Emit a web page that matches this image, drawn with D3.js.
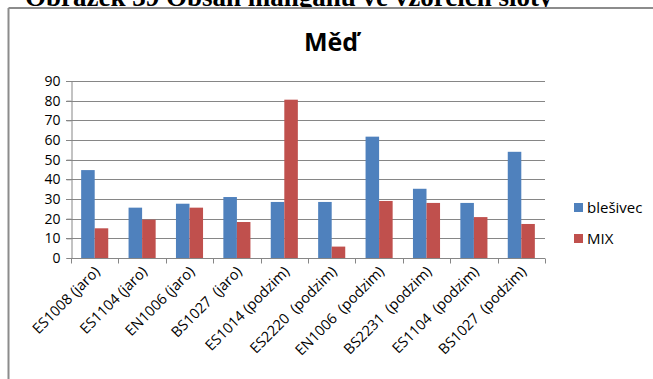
<!DOCTYPE html>
<html>
<head>
<meta charset="utf-8">
<script src="https://cdn.jsdelivr.net/npm/d3@7"></script>
<style>
  html, body { margin: 0; padding: 0; background: #fff; }
  svg { display: block; }
  text { white-space: pre; }
</style>
</head>
<body>
<svg id="chart" width="653" height="379"></svg>
<script>
// Sample names along the x axis
const categories = [
  "ES1008 (jaro)", "ES1104 (jaro)", "EN1006 (jaro)", "BS1027  (jaro)",
  "ES1014 (podzim)", "ES2220  (podzim)", "EN1006  (podzim)", "BS2231  (podzim)",
  "ES1104  (podzim)", "BS1027  (podzim)"
];
// Copper content per sample, two series
const seriesNames = ["blešivec", "MIX"];
const blesivec = [44.7, 25.6, 27.6, 31.0, 28.5, 28.5, 61.7, 35.2, 28.0, 54.0];
const mix      = [15.1, 19.5, 25.6, 18.3, 80.5, 5.8, 29.0, 28.0, 20.8, 17.3];
const yTicks = [0, 10, 20, 30, 40, 50, 60, 70, 80, 90];
const colors = ["#4F81BD", "#C0504D"];

const svg = d3.select("#chart");
const font = "'Open Sans', 'DejaVu Sans', sans-serif";

// Caption line above the chart frame (runs off the top of the page)
svg.append("text")
  .attr("x", 25).attr("y", 6)
  .attr("font-family", "'Liberation Serif', serif")
  .attr("font-weight", "bold")
  .attr("font-size", 27)
  .attr("fill", "#000")
  .text("Obrázek 39 Obsah mangánu ve vzorcích sloty");

// Chart frame
svg.append("rect").attr("x", 9.5).attr("y", 9).attr("width", 644).attr("height", 370).attr("fill", "#fff");
svg.append("line").attr("x1", 8.5).attr("x2", 653).attr("y1", 8).attr("y2", 8)
  .attr("stroke", "#8c8c8c").attr("stroke-width", 2);
svg.append("line").attr("x1", 8.5).attr("x2", 8.5).attr("y1", 8).attr("y2", 379)
  .attr("stroke", "#8c8c8c").attr("stroke-width", 2);

// Title
svg.append("text")
  .attr("x", 331).attr("y", 51)
  .attr("text-anchor", "middle")
  .attr("font-family", font)
  .attr("font-weight", "bold")
  .attr("font-size", 25)
  .text("Měď");

const plot = { left: 71, right: 545, top: 81, bottom: 258 };

const x = d3.scaleBand().domain(categories).range([plot.left, plot.right]).paddingInner(0).paddingOuter(0);
const y = d3.scaleLinear().domain([0, 90]).range([plot.bottom, plot.top]);
// Two bars per group, gap 150% of a bar width
const inner = d3.scaleBand().domain(seriesNames)
  .range([0, x.bandwidth()]).paddingInner(0).paddingOuter(0.75);

// Gridlines
svg.append("g").selectAll("line").data(yTicks.filter(t => t > 0)).join("line")
  .attr("x1", plot.left - 5).attr("x2", plot.right)
  .attr("y1", d => Math.round(y(d)) + 0.5).attr("y2", d => Math.round(y(d)) + 0.5)
  .attr("stroke", "#868686").attr("stroke-width", 1);

// Y axis
const yAxis = svg.append("g")
  .attr("transform", `translate(${plot.left + 0.5},0)`)
  .call(d3.axisLeft(y).tickValues(yTicks).tickSize(5).tickPadding(6));
yAxis.select(".domain").attr("stroke", "#868686");
yAxis.selectAll(".tick line").attr("stroke", "#868686");
yAxis.selectAll(".tick text")
  .attr("font-family", font).attr("font-size", 14).attr("fill", "#000");

// Bars
const rows = categories.map((c, i) => ({ cat: c, values: [blesivec[i], mix[i]] }));
const groups = svg.append("g").selectAll("g").data(rows).join("g")
  .attr("transform", d => `translate(${x(d.cat)},0)`);
groups.selectAll("rect")
  .data(d => d.values.map((v, k) => ({ name: seriesNames[k], v, k })))
  .join("rect")
  .attr("x", d => inner(d.name))
  .attr("width", inner.bandwidth())
  .attr("y", d => y(d.v))
  .attr("height", d => y(0) - y(d.v))
  .attr("fill", d => colors[d.k]);

// X axis with tick marks at category boundaries
const xg = svg.append("g").attr("transform", `translate(0,${plot.bottom + 0.5})`);
xg.append("line").attr("x1", plot.left).attr("x2", plot.right)
  .attr("stroke", "#868686");
const bounds = categories.map(c => x(c)).concat([plot.right]);
xg.selectAll("line.tk").data(bounds).join("line").attr("class", "tk")
  .attr("x1", d => Math.round(d) + 0.5).attr("x2", d => Math.round(d) + 0.5)
  .attr("y1", 0).attr("y2", 5).attr("stroke", "#868686");
xg.selectAll("text").data(categories).join("text")
  .attr("transform", d => `translate(${x(d) + x.bandwidth() / 2 + 6},${14}) rotate(-45)`)
  .attr("text-anchor", "end")
  .attr("font-family", font)
  .attr("font-size", 14.5)
  .attr("fill", "#000")
  .text(d => d);

// Legend
const legend = svg.append("g").selectAll("g").data(seriesNames).join("g")
  .attr("transform", (d, i) => `translate(574,${203 + i * 31})`);
legend.append("rect").attr("width", 9).attr("height", 9).attr("fill", (d, i) => colors[i]);
legend.append("text").attr("x", 13).attr("y", 10)
  .attr("font-family", font).attr("font-size", 15).attr("fill", "#000")
  .text(d => d);
</script>
</body>
</html>
